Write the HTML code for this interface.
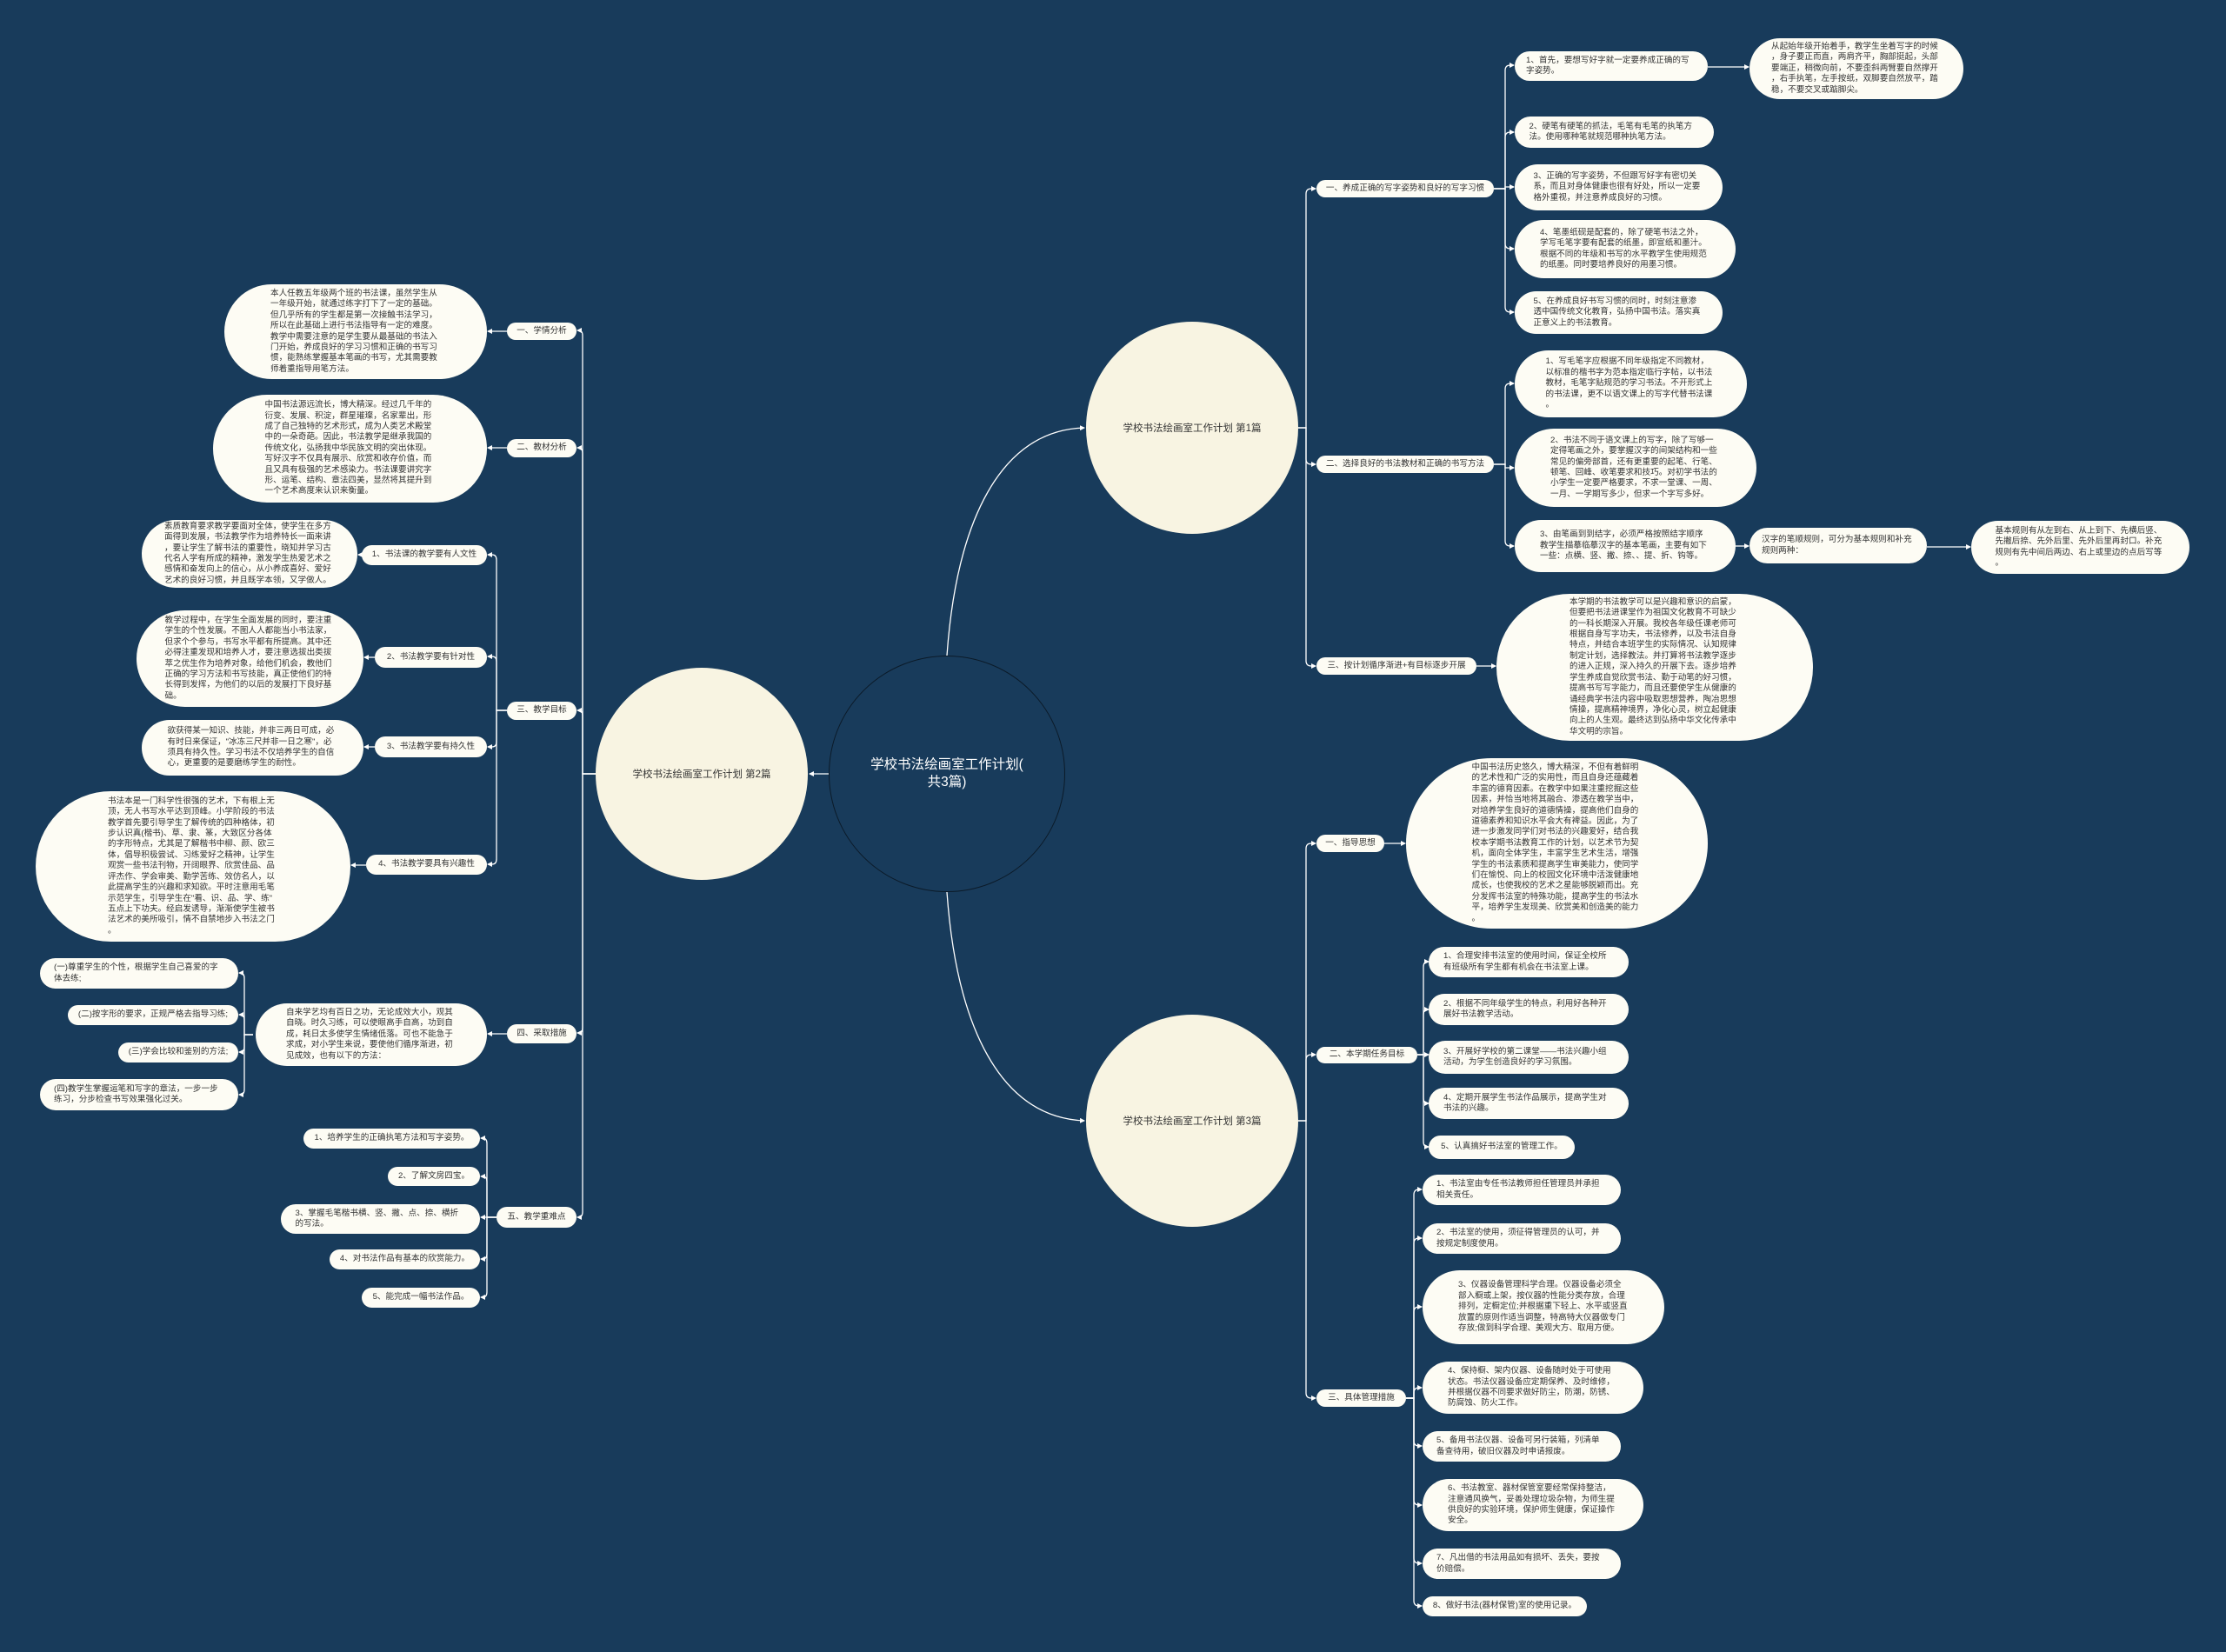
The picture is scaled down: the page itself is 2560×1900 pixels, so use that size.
<!DOCTYPE html>
<html><head><meta charset="utf-8">
<style>
html,body{margin:0;padding:0}
body{width:2560px;height:1900px;background:#183b5b;position:relative;overflow:hidden;font-family:"Liberation Sans","Noto Sans CJK SC",sans-serif}
.n{position:absolute;background:#fdfcf4;border-radius:999px;display:flex;align-items:center;justify-content:center;font-size:9.6px;line-height:12.4px;color:#333;box-sizing:border-box}
.n>div{width:196px;line-break:anywhere;word-break:break-all}
.n>div.s{width:auto;white-space:nowrap}
.c{position:absolute;border-radius:50%;background:#f8f4e2;display:flex;align-items:center;justify-content:center;color:#333;font-size:11.5px}
svg{position:absolute;left:0;top:0}
</style></head><body>
<svg width="2560" height="1900" viewBox="0 0 2560 1900">
<defs><marker id="a" markerWidth="6" markerHeight="6" refX="5" refY="3" orient="auto" markerUnits="userSpaceOnUse"><path d="M0,0 L6,3 L0,6 z" fill="#fff"/></marker></defs>
<g fill="none" stroke="#fff" stroke-width="1.3" marker-end="url(#a)">
<path d="M1089 754 C1100 600 1150 495 1247 492"/>
<path d="M1089 1026 C1100 1180 1150 1285 1247 1289"/>
<path d="M953 890 H931"/>
<path d="M1493 492 H1502 V223 Q1502 217 1508 217 H1513"/>
<path d="M1493 492 H1502 V528 Q1502 534 1508 534 H1513"/>
<path d="M1493 492 H1502 V760 Q1502 766 1508 766 H1513"/>
<path d="M1718 217 H1731 V81 Q1731 75 1737 75 H1741"/>
<path d="M1718 217 H1731 V158 Q1731 152 1737 152 H1741"/>
<path d="M1718 217 H1731 V215 H1741"/>
<path d="M1718 217 H1731 V280 Q1731 286 1737 286 H1741"/>
<path d="M1718 217 H1731 V353 Q1731 359 1737 359 H1741"/>
<path d="M1964 77 H2011"/>
<path d="M1718 534 H1731 V447 Q1731 441 1737 441 H1741"/>
<path d="M1718 534 H1731 V538 H1741"/>
<path d="M1718 534 H1731 V622 Q1731 628 1737 628 H1741"/>
<path d="M1996 628 H2011"/>
<path d="M2216 629 H2266"/>
<path d="M1698 766 H1720"/>
<path d="M1493 1289 H1502 V976 Q1502 970 1508 970 H1513"/>
<path d="M1493 1289 H1502 V1219 Q1502 1213 1508 1213 H1513"/>
<path d="M1493 1289 H1502 V1602 Q1502 1608 1508 1608 H1513"/>
<path d="M1592 970 H1616"/>
<path d="M1630 1213 H1637 V1112 Q1637 1106 1642 1106 H1643"/>
<path d="M1630 1213 H1637 V1167 Q1637 1161 1642 1161 H1643"/>
<path d="M1630 1213 H1643"/>
<path d="M1630 1213 H1637 V1263 Q1637 1269 1642 1269 H1643"/>
<path d="M1630 1213 H1637 V1313 Q1637 1319 1642 1319 H1643"/>
<path d="M1617 1608 H1626 V1374 Q1626 1368 1632 1368 H1635"/>
<path d="M1617 1608 H1626 V1430 Q1626 1424 1632 1424 H1635"/>
<path d="M1617 1608 H1626 V1509 Q1626 1503 1632 1503 H1635"/>
<path d="M1617 1608 H1626 V1602 Q1626 1596 1632 1596 H1635"/>
<path d="M1617 1608 H1626 V1657 Q1626 1663 1632 1663 H1635"/>
<path d="M1617 1608 H1626 V1725 Q1626 1731 1632 1731 H1635"/>
<path d="M1617 1608 H1626 V1792 Q1626 1798 1632 1798 H1635"/>
<path d="M1617 1608 H1626 V1841 Q1626 1847 1632 1847 H1635"/>
<path d="M685 890 H670 V386 Q670 380 665 380 H664"/>
<path d="M685 890 H670 V521 Q670 515 665 515 H664"/>
<path d="M685 890 H670 V823 Q670 817 665 817 H664"/>
<path d="M685 890 H670 V1182 Q670 1188 665 1188 H664"/>
<path d="M685 890 H670 V1394 Q670 1400 665 1400 H664"/>
<path d="M583 381 H561"/>
<path d="M583 515 H561"/>
<path d="M583 817 H571 V644 Q571 638 566 638 H561"/>
<path d="M583 817 H571 V761 Q571 755 566 755 H561"/>
<path d="M583 817 H571 V853 Q571 859 566 859 H561"/>
<path d="M583 817 H571 V988 Q571 994 566 994 H561"/>
<path d="M416 638 H412"/>
<path d="M431 756 H419"/>
<path d="M431 859 H419"/>
<path d="M421 995 H404"/>
<path d="M583 1189 H561"/>
<path d="M291 1190 H281 V1125 Q281 1119 276 1119 H275"/>
<path d="M291 1190 H281 V1173 Q281 1167 276 1167 H275"/>
<path d="M291 1190 H281 V1204 Q281 1210 276 1210 H275"/>
<path d="M291 1190 H281 V1253 Q281 1259 276 1259 H275"/>
<path d="M571 1400 H560 V1315 Q560 1309 555 1309 H553"/>
<path d="M571 1400 H560 V1359 Q560 1353 555 1353 H553"/>
<path d="M571 1400 H553"/>
<path d="M571 1400 H560 V1442 Q560 1448 555 1448 H553"/>
<path d="M571 1400 H560 V1486 Q560 1492 555 1492 H553"/>
</g>
</svg>

<div class="c" style="left:953px;top:754px;width:272px;height:272px;background:#183b5b;border:1.5px solid #0b1a28;box-sizing:border-box;color:#fff;font-size:15.5px;line-height:20px;text-align:center"><div style="width:190px;word-break:break-all;line-break:anywhere">学校书法绘画室工作计划(共3篇)</div></div>
<div class="c" style="left:1249px;top:370px;width:244px;height:244px">学校书法绘画室工作计划 第1篇</div>
<div class="c" style="left:1249px;top:1167px;width:244px;height:244px">学校书法绘画室工作计划 第3篇</div>
<div class="c" style="left:685px;top:768px;width:244px;height:244px">学校书法绘画室工作计划 第2篇</div>

<div class="n" style="left:1514px;top:207px;width:204px;height:20px"><div class="s">一、养成正确的写字姿势和良好的写字习惯</div></div>
<div class="n" style="left:1742px;top:59px;width:222px;height:34px"><div>1、首先，要想写好字就一定要养成正确的写字姿势。</div></div>
<div class="n" style="left:2012px;top:44px;width:246px;height:70px"><div>从起始年级开始着手，教学生坐着写字的时候，身子要正而直，两肩齐平，胸部挺起，头部要端正，稍微向前，不要歪斜两臂要自然撑开，右手执笔，左手按纸，双脚要自然放平，踏稳，不要交叉或踮脚尖。</div></div>
<div class="n" style="left:1742px;top:134px;width:229px;height:36px"><div>2、硬笔有硬笔的抓法，毛笔有毛笔的执笔方法。使用哪种笔就规范哪种执笔方法。</div></div>
<div class="n" style="left:1742px;top:189px;width:239px;height:53px"><div>3、正确的写字姿势，不但跟写好字有密切关系，而且对身体健康也很有好处，所以一定要格外重视，并注意养成良好的习惯。</div></div>
<div class="n" style="left:1742px;top:253px;width:254px;height:67px"><div>4、笔墨纸砚是配套的，除了硬笔书法之外，学写毛笔字要有配套的纸墨，即宣纸和墨汁。根据不同的年级和书写的水平教学生使用规范的纸墨。同时要培养良好的用墨习惯。</div></div>
<div class="n" style="left:1742px;top:335px;width:239px;height:49px"><div>5、在养成良好书写习惯的同时，时刻注意渗透中国传统文化教育，弘扬中国书法。落实真正意义上的书法教育。</div></div>
<div class="n" style="left:1514px;top:524px;width:204px;height:20px"><div class="s">二、选择良好的书法教材和正确的书写方法</div></div>
<div class="n" style="left:1742px;top:403px;width:267px;height:77px"><div>1、写毛笔字应根据不同年级指定不同教材，以标准的楷书字为范本指定临行字帖，以书法教材，毛笔字贴规范的学习书法。不开形式上的书法课，更不以语文课上的写字代替书法课。</div></div>
<div class="n" style="left:1742px;top:493px;width:278px;height:90px"><div>2、书法不同于语文课上的写字，除了写够一定得笔画之外，要掌握汉字的间架结构和一些常见的偏旁部首，还有更重要的起笔、行笔、顿笔、回峰、收笔要求和技巧。对初学书法的小学生一定要严格要求，不求一堂课、一周、一月、一学期写多少，但求一个字写多好。</div></div>
<div class="n" style="left:1742px;top:598px;width:254px;height:60px"><div>3、由笔画到到结字，必须严格按照结字顺序教学生描摹临摹汉字的基本笔画，主要有如下一些：点横、竖、撇、捺、、提、折、钩等。</div></div>
<div class="n" style="left:2012px;top:607px;width:204px;height:41px"><div style="width:176px">汉字的笔顺规则，可分为基本规则和补充规则两种：</div></div>
<div class="n" style="left:2267px;top:599px;width:251px;height:61px"><div>基本规则有从左到右、从上到下、先横后竖、先撇后捺、先外后里、先外后里再封口。补充规则有先中间后两边、右上或里边的点后写等。</div></div>
<div class="n" style="left:1514px;top:756px;width:184px;height:20px"><div class="s">三、按计划循序渐进+有目标逐步开展</div></div>
<div class="n" style="left:1721px;top:683px;width:364px;height:169px"><div>本学期的书法教学可以是兴趣和意识的启蒙，但要把书法进课堂作为祖国文化教育不可缺少的一科长期深入开展。我校各年级任课老师可根据自身写字功夫，书法修养，以及书法自身特点，并结合本班学生的实际情况、认知规律制定计划，选择教法。并打算将书法教学逐步的进入正规，深入持久的开展下去。逐步培养学生养成自觉欣赏书法、勤于动笔的好习惯，提高书写写字能力，而且还要使学生从健康的诵经典学书法内容中吸取思想营养，陶冶思想情操，提高精神境界，净化心灵，树立起健康向上的人生观。最终达到弘扬中华文化传承中华文明的宗旨。</div></div>

<div class="n" style="left:1514px;top:960px;width:78px;height:20px"><div class="s">一、指导思想</div></div>
<div class="n" style="left:1617px;top:872px;width:347px;height:196px"><div>中国书法历史悠久，博大精深，不但有着鲜明的艺术性和广泛的实用性，而且自身还蕴藏着丰富的德育因素。在教学中如果注重挖掘这些因素，并恰当地将其融合、渗透在教学当中，对培养学生良好的道德情操，提高他们自身的道德素养和知识水平会大有裨益。因此，为了进一步激发同学们对书法的兴趣爱好，结合我校本学期书法教育工作的计划，以艺术节为契机，面向全体学生，丰富学生艺术生活，增强学生的书法素质和提高学生审美能力，使同学们在愉悦、向上的校园文化环境中活泼健康地成长，也使我校的艺术之星能够脱颖而出。充分发挥书法室的特殊功能，提高学生的书法水平，培养学生发现美、欣赏美和创造美的能力。</div></div>
<div class="n" style="left:1514px;top:1204px;width:116px;height:19px"><div class="s">二、本学期任务目标</div></div>
<div class="n" style="left:1643px;top:1089px;width:230px;height:35px"><div>1、合理安排书法室的使用时间，保证全校所有班级所有学生都有机会在书法室上课。</div></div>
<div class="n" style="left:1643px;top:1143px;width:230px;height:36px"><div>2、根据不同年级学生的特点，利用好各种开展好书法教学活动。</div></div>
<div class="n" style="left:1643px;top:1197px;width:230px;height:38px"><div>3、开展好学校的第二课堂——书法兴趣小组活动，为学生创造良好的学习氛围。</div></div>
<div class="n" style="left:1643px;top:1251px;width:230px;height:36px"><div>4、定期开展学生书法作品展示，提高学生对书法的兴趣。</div></div>
<div class="n" style="left:1643px;top:1306px;width:168px;height:27px"><div class="s">5、认真搞好书法室的管理工作。</div></div>
<div class="n" style="left:1514px;top:1598px;width:103px;height:20px"><div class="s">三、具体管理措施</div></div>
<div class="n" style="left:1636px;top:1351px;width:228px;height:35px"><div>1、书法室由专任书法教师担任管理员并承担相关责任。</div></div>
<div class="n" style="left:1636px;top:1407px;width:228px;height:35px"><div>2、书法室的使用，须征得管理员的认可，并按规定制度使用。</div></div>
<div class="n" style="left:1636px;top:1461px;width:278px;height:85px"><div>3、仪器设备管理科学合理。仪器设备必须全部入橱或上架，按仪器的性能分类存放，合理排列，定橱定位;并根据重下轻上、水平或竖直放置的原则作适当调整，特高特大仪器做专门存放;做到科学合理、美观大方、取用方便。</div></div>
<div class="n" style="left:1636px;top:1566px;width:254px;height:60px"><div>4、保持橱、架内仪器、设备随时处于可使用状态。书法仪器设备应定期保养、及时维修，并根据仪器不同要求做好防尘，防潮，防锈、防腐蚀、防火工作。</div></div>
<div class="n" style="left:1636px;top:1646px;width:228px;height:35px"><div>5、备用书法仪器、设备可另行装箱，列清单备查待用，破旧仪器及时申请报废。</div></div>
<div class="n" style="left:1636px;top:1701px;width:254px;height:60px"><div>6、书法教室、器材保管室要经常保持整洁，注意通风换气，妥善处理垃圾杂物，为师生提供良好的实验环境，保护师生健康，保证操作安全。</div></div>
<div class="n" style="left:1636px;top:1781px;width:228px;height:35px"><div>7、凡出借的书法用品如有损坏、丢失，要按价赔偿。</div></div>
<div class="n" style="left:1636px;top:1836px;width:189px;height:23px"><div class="s">8、做好书法(器材保管)室的使用记录。</div></div>

<div class="n" style="left:583px;top:371px;width:80px;height:20px"><div class="s">一、学情分析</div></div>
<div class="n" style="left:258px;top:327px;width:302px;height:109px"><div>本人任教五年级两个班的书法课，虽然学生从一年级开始，就通过练字打下了一定的基础。但几乎所有的学生都是第一次接触书法学习，所以在此基础上进行书法指导有一定的难度。教学中需要注意的是学生要从最基础的书法入门开始，养成良好的学习习惯和正确的书写习惯，能熟练掌握基本笔画的书写，尤其需要教师着重指导用笔方法。</div></div>
<div class="n" style="left:583px;top:505px;width:80px;height:21px"><div class="s">二、教材分析</div></div>
<div class="n" style="left:245px;top:454px;width:315px;height:124px"><div>中国书法源远流长，博大精深。经过几千年的衍变、发展、积淀，群星璀璨，名家辈出，形成了自己独特的艺术形式，成为人类艺术殿堂中的一朵奇葩。因此，书法教学是继承我国的传统文化，弘扬我中华民族文明的突出体现。写好汉字不仅具有展示、欣赏和收存价值，而且又具有极强的艺术感染力。书法课要讲究字形、运笔、结构、章法四美，显然将其提升到一个艺术高度来认识来衡量。</div></div>
<div class="n" style="left:583px;top:807px;width:80px;height:21px"><div class="s">三、教学目标</div></div>
<div class="n" style="left:416px;top:627px;width:144px;height:23px"><div class="s">1、书法课的教学要有人文性</div></div>
<div class="n" style="left:163px;top:598px;width:248px;height:78px"><div>素质教育要求教学要面对全体，使学生在多方面得到发展，书法教学作为培养特长一面来讲，要让学生了解书法的重要性，晓知并学习古代名人学有所成的精神，激发学生热爱艺术之感情和奋发向上的信心，从小养成喜好、爱好艺术的良好习惯，并且既学本领，又学做人。</div></div>
<div class="n" style="left:431px;top:744px;width:129px;height:24px"><div class="s">2、书法教学要有针对性</div></div>
<div class="n" style="left:157px;top:702px;width:261px;height:111px"><div>教学过程中，在学生全面发展的同时，要注重学生的个性发展。不图人人都能当小书法家，但求个个参与，书写水平都有所提高。其中还必得注重发现和培养人才，要注意选拔出类拔萃之优生作为培养对象，给他们机会，教他们正确的学习方法和书写技能，真正使他们的特长得到发挥，为他们的以后的发展打下良好基础。</div></div>
<div class="n" style="left:431px;top:847px;width:129px;height:24px"><div class="s">3、书法教学要有持久性</div></div>
<div class="n" style="left:163px;top:828px;width:255px;height:64px"><div>欲获得某一知识、技能，并非三两日可成，必有时日来保证，"冰冻三尺并非一日之寒"，必须具有持久性。学习书法不仅培养学生的自信心，更重要的是要磨练学生的耐性。</div></div>
<div class="n" style="left:421px;top:983px;width:139px;height:23px"><div class="s">4、书法教学要具有兴趣性</div></div>
<div class="n" style="left:41px;top:910px;width:362px;height:173px"><div>书法本是一门科学性很强的艺术，下有根上无顶，无人书写水平达到顶峰。小学阶段的书法教学首先要引导学生了解传统的四种格体，初步认识真(楷书)、草、隶、篆，大致区分各体的字形特点，尤其是了解楷书中柳、颜、欧三体，倡导积极尝试、习练爱好之精神，让学生观赏一些书法刊物，开阔眼界、欣赏佳品、品评杰作、学会审美、勤学苦练、效仿名人，以此提高学生的兴趣和求知欲。平时注意用毛笔示范学生，引导学生在"看、识、品、学、练"五点上下功夫。经启发诱导，渐渐使学生被书法艺术的美所吸引，情不自禁地步入书法之门。</div></div>
<div class="n" style="left:583px;top:1178px;width:80px;height:22px"><div class="s">四、采取措施</div></div>
<div class="n" style="left:294px;top:1154px;width:266px;height:72px"><div>自来学艺均有百日之功，无论成效大小，观其自晓。时久习练，可以使眼高手自高，功到自成，耗日太多使学生情绪低落。可也不能急于求成，对小学生来说，要使他们循序渐进，初见成效，也有以下的方法：</div></div>
<div class="n" style="left:46px;top:1102px;width:228px;height:35px"><div>(一)尊重学生的个性，根据学生自己喜爱的字体去练;</div></div>
<div class="n" style="left:78px;top:1156px;width:196px;height:23px"><div class="s">(二)按字形的要求，正规严格去指导习练;</div></div>
<div class="n" style="left:136px;top:1199px;width:138px;height:23px"><div class="s">(三)学会比较和鉴别的方法;</div></div>
<div class="n" style="left:46px;top:1241px;width:228px;height:36px"><div>(四)教学生掌握运笔和写字的章法，一步一步练习，分步检查书写效果强化过关。</div></div>
<div class="n" style="left:571px;top:1388px;width:92px;height:24px"><div class="s">五、教学重难点</div></div>
<div class="n" style="left:349px;top:1298px;width:203px;height:23px"><div class="s">1、培养学生的正确执笔方法和写字姿势。</div></div>
<div class="n" style="left:446px;top:1342px;width:106px;height:22px"><div class="s">2、了解文房四宝。</div></div>
<div class="n" style="left:323px;top:1385px;width:229px;height:34px"><div>3、掌握毛笔楷书横、竖、撇、点、捺、横折的写法。</div></div>
<div class="n" style="left:379px;top:1437px;width:173px;height:23px"><div class="s">4、对书法作品有基本的欣赏能力。</div></div>
<div class="n" style="left:416px;top:1481px;width:136px;height:23px"><div class="s">5、能完成一幅书法作品。</div></div>
</body></html>
